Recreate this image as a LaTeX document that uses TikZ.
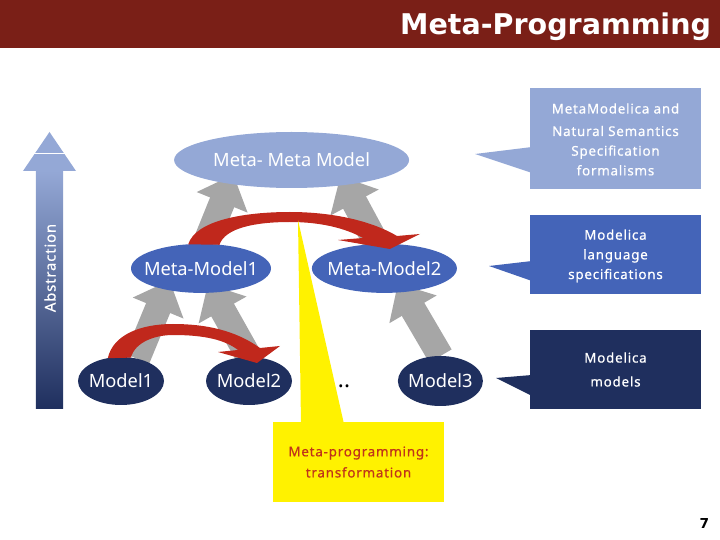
\documentclass[tikz,border=0pt]{standalone}
\usepackage{xcolor}
\usepackage{fontspec}
\setmainfont{Noto Sans}
\newfontfamily\titlefont{DejaVu Sans}
\newfontfamily\spacedfont[LetterSpace=6,FakeBold=0.6]{Noto Sans}
\usepackage{tikz}
\usetikzlibrary{shapes.geometric, arrows.meta, backgrounds}
\definecolor{headred}{HTML}{7A1F17}
\definecolor{lightblue}{HTML}{94A8D6}
\definecolor{midblue}{HTML}{4464B8}
\definecolor{darkblue}{HTML}{1F2F5E}
\definecolor{flowred}{HTML}{C0281C}
\definecolor{notered}{HTML}{C0341A}
\definecolor{upgrey}{HTML}{A6A6A6}
\tikzstyle{level} = [ellipse,inner xsep=-0.4cm,inner ysep=0pt,outer sep=0pt,text=white,font=\fontsize{13}{15}\selectfont]
\tikzstyle{note} = [inner sep=0pt,outer sep=0pt,text=white,align=center,font=\spacedfont\fontsize{9.5}{14}\selectfont,minimum width=4.275cm]
\tikzstyle{uparrow} = [line width=0.65cm,upgrey,shorten >=-0.25cm,-{Triangle[length=0.75cm,width=1.325cm]}]
\tikzstyle{transform} = [fill=flowred]

\begin{document}
\begin{tikzpicture}
\useasboundingbox (0,0) rectangle (18,13.5);

% Header
\fill[headred] (0,12.3) rectangle (18,13.5);
\node[text=white, font=\titlefont\bfseries\fontsize{20.3}{24}\selectfont] (title) at (13.89,12.83) {Meta-Programming};

% Abstraction arrow
\shade[bottom color=darkblue, top color=lightblue] (0.9,3.275) rectangle (1.575,9.225);
\fill[lightblue] (0.575,9.225) -- (1.2375,10.2) -- (1.9,9.225) -- cycle;
\draw[white, thin] (0.86,9.675) -- (1.63,9.675);
\node[rotate=90, text=white, font=\spacedfont\fontsize{10.5}{12}\selectfont] (abstraction) at (1.25,6.8) {Abstraction};

% Levels
\node[level, fill=lightblue, minimum width=5.875cm, minimum height=1.4cm] (metameta) at (7.29,9.5) {Meta- Meta Model};
\node[level, fill=midblue, minimum width=3.5cm, minimum height=1.225cm] (metamodel1) at (5.025,6.79) {Meta-Model1};
\node[level, fill=midblue, minimum width=3.625cm, minimum height=1.225cm] (metamodel2) at (9.61,6.79) {Meta-Model2};
\node[level, fill=darkblue, minimum width=2.15cm, minimum height=1.2cm] (model1) at (3.025,3.975) {Model1};
\node[level, fill=darkblue, minimum width=2.15cm, minimum height=1.2cm] (model2) at (6.225,3.975) {Model2};
\node[level, fill=darkblue, minimum width=2.125cm, minimum height=1.25cm] (model3) at (11.01,3.975) {Model3};
\node[font=\fontsize{16}{18}\selectfont] (dots) at (8.6,3.85) {..};

% Instance-of arrows
\begin{scope}[on background layer]
\draw[uparrow] (model1.54) -- (metamodel1.211);
\draw[uparrow] (model2.north) -- (metamodel1.296);
\draw[uparrow] (metamodel1.80) -- (metameta.201);
\draw[uparrow] (metamodel2.107) -- (metameta.335);
\draw[uparrow] (model3.north) -- (metamodel2.308);
\end{scope}

% Transformation arrows
\fill[transform] (metamodel1.118) .. controls (4.9,8.0) and (6.125,8.2) .. (7.25,8.2)
  .. controls (8.25,8.2) and (9.25,8.0) .. (9.925,7.6)
  -- (10.5,7.65) -- (9.75,7.275) -- (8.45,7.5) -- (9.075,7.55)
  .. controls (8.625,7.8) and (8,7.95) .. (7.25,7.95)
  .. controls (6.375,7.95) and (5.625,7.8) .. (metamodel1.52) -- cycle;
\fill[transform] (model1.120) .. controls (2.825,5.125) and (3.5,5.4) .. (4.325,5.4)
  .. controls (5.125,5.4) and (5.875,5.25) .. (6.5,4.8)
  -- (7,4.85) -- (6.425,4.425) -- (5.45,4.7) -- (5.95,4.75)
  .. controls (5.625,5) and (5.125,5.125) .. (4.325,5.125)
  .. controls (3.875,5.125) and (3.375,4.95) .. (model1.67) -- cycle;

% Yellow note
\fill[yellow] (7.45,8.0) -- (7.525,2.9) -- (8.6,2.9) -- cycle;
\node[note, fill=yellow, text=notered, minimum height=2cm] (metaprog) at (8.9625,1.95) {Meta-programming:\\[1pt]transformation};

% Notes on the right
\fill[lightblue] (11.875,9.65) -- (13.3,9.825) -- (13.3,9.175) -- cycle;
\node[note, fill=lightblue, minimum height=2.525cm] (formalisms) at (15.3875,10.0375) {\rule{0pt}{8.5pt}MetaModelica and\\[2pt]Natural Semantics\\Specification\\formalisms};

\fill[midblue] (12.225,6.85) -- (13.3,6.975) -- (13.3,6.475) -- cycle;
\node[note, fill=midblue, minimum height=1.975cm] (language) at (15.3875,7.1375) {\rule{0pt}{9.2pt}Modelica\\language\\specifications};

\fill[darkblue] (12.4,4.05) -- (13.3,4.125) -- (13.3,3.6) -- cycle;
\node[note, fill=darkblue, minimum height=1.975cm] (models) at (15.3875,4.2625) {Modelica\\[3pt]models};

% Page number
\node[font=\titlefont\bfseries\fontsize{9.75}{12}\selectfont] (page) at (17.61,0.4) {7};
\end{tikzpicture}
\end{document}
